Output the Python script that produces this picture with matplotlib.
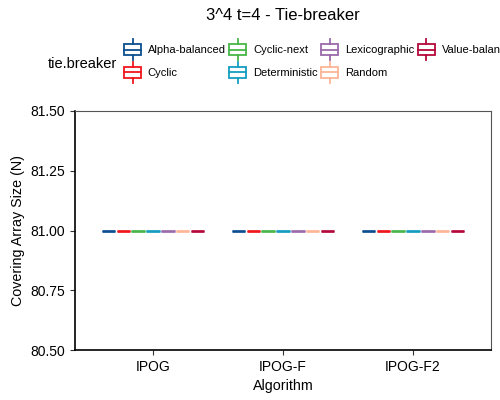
import matplotlib
matplotlib.use("Agg")
import matplotlib.pyplot as plt
from matplotlib.legend_handler import HandlerBase
from matplotlib.patches import Rectangle
from matplotlib.lines import Line2D

plt.rcParams['font.family'] = ['Liberation Sans', 'DejaVu Sans']

# data
algorithms = ["IPOG", "IPOG-F", "IPOG-F2"]
tie_breakers = ["Alpha-balanced", "Cyclic", "Cyclic-next", "Deterministic",
                "Lexicographic", "Random", "Value-balanced"]
colors = ["#0c4e8f", "#f0161c", "#48b648", "#149dc0", "#9a6aab", "#fdb596", "#b5083a"]
# covering array sizes (every run gave 81)
sizes_ipog = [81, 81, 81, 81, 81, 81, 81]
sizes_ipogf = [81, 81, 81, 81, 81, 81, 81]
sizes_ipogf2 = [81, 81, 81, 81, 81, 81, 81]
sizes = [sizes_ipog, sizes_ipogf, sizes_ipogf2]


class BoxKey(HandlerBase):
    # boxplot-style legend key: box, median line, whiskers
    def create_artists(self, legend, orig_handle, xdescent, ydescent,
                       width, height, fontsize, trans):
        c = orig_handle.get_edgecolor()
        x0 = -xdescent
        yc = -ydescent + height / 2
        bh = 7.9 / 2   # half box height (pt)
        wh = 15.0 / 2  # half whisker span (pt)
        xm = x0 + width / 2
        box = Rectangle((x0, yc - bh), width, 2 * bh,
                        facecolor="white", edgecolor=c, lw=1.3, transform=trans)
        mid = Line2D([x0, x0 + width], [yc, yc], color=c, lw=1.3, transform=trans)
        w1 = Line2D([xm, xm], [yc - wh, yc - bh], color=c, lw=1.3, transform=trans)
        w2 = Line2D([xm, xm], [yc + bh, yc + wh], color=c, lw=1.3, transform=trans)
        return [box, mid, w1, w2]


fig = plt.figure(figsize=(5, 4), dpi=100)
ax = fig.add_axes([0.15, 0.125, 0.832, 0.5975])

n = len(tie_breakers)
slot = 0.8 / n
for i, algo in enumerate(algorithms):
    for j, tb in enumerate(tie_breakers):
        pos = i + (j - (n - 1) / 2) * slot
        ax.boxplot([[sizes[i][j]] * 3], positions=[pos], widths=slot * 0.9,
                   showcaps=False, showfliers=False, patch_artist=True,
                   boxprops=dict(facecolor="white", edgecolor=colors[j], lw=1.0),
                   medianprops=dict(color=colors[j], lw=1.9, solid_capstyle="butt"),
                   whiskerprops=dict(color=colors[j], lw=1.0))

ax.set_xlim(-0.6, 2.6)
ax.set_ylim(80.5, 81.5)
ax.set_xticks(range(len(algorithms)))
ax.set_xticklabels(algorithms)
ax.set_yticks([80.5, 80.75, 81.0, 81.25, 81.5])
ax.set_yticklabels(["80.50", "80.75", "81.00", "81.25", "81.50"])
ax.tick_params(labelsize=10, length=3.5, width=0.8, color="#333333", labelcolor="black")
for s in ["top", "right"]:
    ax.spines[s].set_color("#555555")
    ax.spines[s].set_linewidth(0.8)
for s in ["left", "bottom"]:
    ax.spines[s].set_color("black")
    ax.spines[s].set_linewidth(1.2)
ax.set_xlabel("Algorithm", fontsize=10.3, labelpad=4)
ax.set_ylabel("Covering Array Size (N)", fontsize=10.3, labelpad=4)

fig.text(0.566, 0.962, "3^4 t=4 - Tie-breaker", fontsize=12, ha="center", va="center")

handles = [Rectangle((0, 0), 1, 1, edgecolor=c, facecolor="white") for c in colors]
fig.text(0.096, 0.84, "tie.breaker", fontsize=10.5, ha="left", va="center")
fig.legend(handles, tie_breakers, handler_map={Rectangle: BoxKey()},
           loc="center left", bbox_to_anchor=(0.248, 0.8475), ncol=4, frameon=False,
           fontsize=8, handlelength=1.53, handleheight=1.9, handletextpad=0.6,
           columnspacing=0.33, labelspacing=0.56, borderpad=0, borderaxespad=0)

fig.savefig("out.png", dpi=100)
